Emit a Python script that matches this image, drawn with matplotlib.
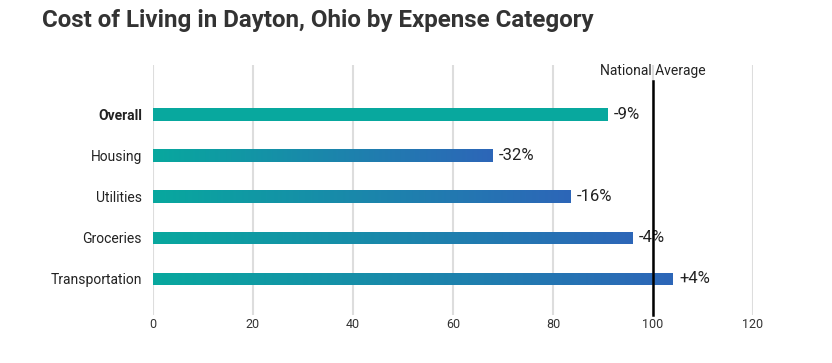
import matplotlib
matplotlib.use("Agg")
import matplotlib.pyplot as plt
import numpy as np
from matplotlib.colors import LinearSegmentedColormap
from matplotlib.patches import Rectangle

categories = ["Overall", "Housing", "Utilities", "Groceries", "Transportation"]
values = [91, 68, 83.6, 96, 104]
labels = ["-9%", "-32%", "-16%", "-4%", "+4%"]
xticks = [0, 20, 40, 60, 80, 100, 120]
national_avg = 100

plt.rcParams['font.family'] = ['Roboto', 'DejaVu Sans']

fig = plt.figure(figsize=(8.32, 3.63), dpi=100)
ax = fig.add_axes([153/832, 1-315/363, (753-153)/832, (315-65)/363])

teal = "#08A89E"
blue = "#2D66B8"
cmap = LinearSegmentedColormap.from_list("g", [teal, blue])
grad = np.linspace(0, 1, 256).reshape(1, -1)

h = 0.3
ypos = np.arange(len(categories))
for i, (c, v, lab) in enumerate(zip(categories, values, labels)):
    y = ypos[i]
    if i == 0:
        ax.barh(y, v, height=h, color=teal, zorder=2)
    else:
        rect = Rectangle((0, y - h/2), v, h, facecolor='none', edgecolor='none')
        ax.add_patch(rect)
        im = ax.imshow(grad, cmap=cmap, aspect='auto',
                       extent=[0, v, y + h/2, y - h/2], zorder=2, interpolation='bilinear')
        im.set_clip_path(rect)
    ax.text(v + 1.2, y, lab, va='center', ha='left', fontsize=12, color='#222222', zorder=4)

ax.set_xlim(0, 120)
ax.set_ylim(4.88, -1.2)
ax.set_xticks(xticks)
ax.set_yticks(ypos)
ax.set_yticklabels(categories)
for t in ax.get_yticklabels():
    t.set_fontsize(10)
    t.set_color('#222222')
ax.get_yticklabels()[0].set_fontweight('bold')
ax.tick_params(axis='x', length=0, pad=2, labelsize=9, labelcolor='#333333')
ax.tick_params(axis='y', length=0, pad=8)
ax.grid(axis='x', color='#dddddd', linewidth=1.5, zorder=0)
ax.set_axisbelow(True)
for s in ax.spines.values():
    s.set_visible(False)

ax.plot([national_avg, national_avg], [-0.82, 4.88], color='black', linewidth=1.8, zorder=5, clip_on=False)
ax.text(national_avg, -1.05, "National Average", ha='center', va='center', fontsize=10, color='#222222')

fig.text(42/832, 1-20/363, "Cost of Living in Dayton, Ohio by Expense Category",
         fontsize=17.4, fontweight='bold', color='#333333', ha='left', va='center')

fig.savefig("out.png", dpi=100)
